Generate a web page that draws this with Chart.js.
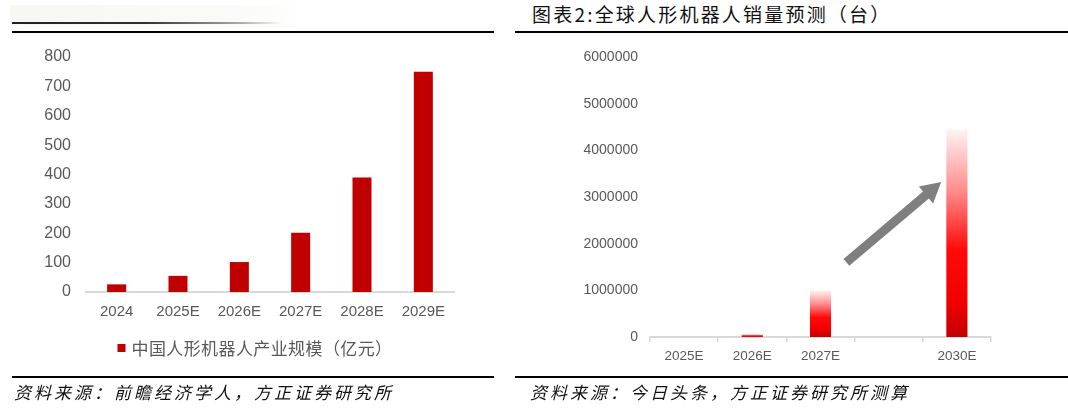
<!DOCTYPE html>
<html>
<head>
<meta charset="utf-8">
<script src="https://cdn.jsdelivr.net/npm/chart.js@4.4.1/dist/chart.umd.min.js"></script>
<style>
  html, body { margin:0; padding:0; background:#fff; }
  body { width:1068px; height:408px; position:relative; overflow:hidden; }
  .abs { position:absolute; }
  .rule { position:absolute; height:2px; background:#000; }
  .src { position:absolute; font-family:"Noto Sans CJK SC"; font-style:italic; font-size:17px; letter-spacing:3px; color:#111; line-height:20px; white-space:nowrap; }
  #title2 { position:absolute; left:532px; top:2px; font-family:"Noto Sans CJK SC"; font-size:19px; letter-spacing:2.2px; color:#111; white-space:nowrap; line-height:24px; }
  #fade { position:absolute; left:10px; top:5px; width:300px; height:20px; background:linear-gradient(to right, #f7f7f4 0%, #fafaf7 70%, rgba(255,255,255,0) 100%); }
  #fadeline { position:absolute; left:12px; top:22px; width:270px; height:2px; background:linear-gradient(to right, #222 0%, #333 50%, rgba(120,120,120,0.6) 85%, rgba(255,255,255,0) 100%); }
</style>
</head>
<body>
<div id="fade"></div>
<div id="fadeline"></div>
<div class="rule" style="left:12px; top:31px; width:482px;"></div>
<div id="title2">图表2:全球人形机器人销量预测（台）</div>
<div class="rule" style="left:515px; top:31px; width:553px;"></div>

<canvas id="c1" class="abs" style="left:0; top:0;" width="534" height="408"></canvas>
<canvas id="c2" class="abs" style="left:534px; top:0;" width="534" height="408"></canvas>

<div class="rule" style="left:12px; top:376px; width:482px;"></div>
<div class="rule" style="left:515px; top:376px; width:553px;"></div>
<div class="src" style="left:14px; top:382px;">资料来源：前瞻经济学人，方正证券研究所</div>
<div class="src" style="left:530px; top:382px;">资料来源：今日头条，方正证券研究所测算</div>

<script>
// ---- Chart 1 data ----
const years1 = ['2024', '2025E', '2026E', '2027E', '2028E', '2029E'];
const industrySize = [26, 55, 102, 202, 390, 750];
const seriesName1 = '中国人形机器人产业规模（亿元）';

// ---- Chart 2 data ----
const years2 = ['2025E', '2026E', '2027E', '', '2030E'];
const globalSales = [0, 60000, 1000000, null, 4450000];

const tickColor = '#595959';

// legend drawn below the x axis, centred under the plot
const legendPlugin = {
  id: 'bottomLegend',
  afterDraw(chart, args, opts) {
    const ds = chart.data.datasets[0];
    const c = chart.ctx;
    const area = chart.chartArea;
    c.save();
    c.font = '17px "Noto Sans CJK SC"';
    c.letterSpacing = '0.4px';
    const w = c.measureText(ds.label).width;
    const box = 8, gap = 6;
    const total = box + gap + w;
    const cx = (area.left + area.right) / 2 - 15;
    const x0 = cx - total / 2;
    const y = area.bottom + opts.offset;
    c.fillStyle = ds.backgroundColor;
    c.fillRect(x0, y - box / 2, box, box);
    c.fillStyle = '#595959';
    c.textBaseline = 'middle';
    c.textAlign = 'left';
    c.fillText(ds.label, x0 + box + gap, y + 1);
    c.restore();
  }
};

new Chart(document.getElementById('c1'), {
  type: 'bar',
  data: {
    labels: years1,
    datasets: [{
      label: seriesName1,
      data: industrySize,
      backgroundColor: '#c00000',
      barPercentage: 0.31,
      categoryPercentage: 1.0
    }]
  },
  plugins: [legendPlugin],
  options: {
    responsive: false,
    animation: false,
    layout: { padding: { top: 57, left: 0, right: 80, bottom: 80 } },
    plugins: {
      tooltip: { enabled: false },
      legend: { display: false },
      bottomLegend: { offset: 56 }
    },
    scales: {
      x: {
        grid: { display: false, drawTicks: false },
        border: { display: true, color: '#d9d9d9', width: 2 },
        ticks: { color: tickColor, font: { family: 'Liberation Sans', size: 15 }, padding: 11, maxRotation: 0 },
        afterFit: s => { s.height = 36; }
      },
      y: {
        min: 0, max: 800,
        grid: { display: false, drawTicks: false },
        border: { display: false },
        ticks: { stepSize: 100, color: tickColor, font: { family: 'Liberation Sans', size: 16 }, padding: 15 },
        afterFit: s => { s.width = 86; }
      }
    }
  }
});

function barGradient(ctx) {
  const chart = ctx.chart;
  const area = chart.chartArea;
  if (!area || ctx.parsed == null || ctx.parsed.y == null) return '#ff0000';
  const y = chart.scales.y;
  const top = y.getPixelForValue(ctx.parsed.y);
  const bottom = y.getPixelForValue(0);
  if (!(bottom > top)) return '#ff0000';
  const g = chart.ctx.createLinearGradient(0, top, 0, bottom);
  g.addColorStop(0, '#fff4f4');
  g.addColorStop(0.3, '#ff8a8a');
  g.addColorStop(0.58, '#ff0a0a');
  g.addColorStop(0.84, '#f00000');
  g.addColorStop(1, '#c00000');
  return g;
}

const arrowPlugin = {
  id: 'trendArrow',
  afterDatasetsDraw(chart, args, opts) {
    const xs = chart.scales.x, ys = chart.scales.y;
    const x0 = xs.getPixelForValue(opts.from[0]), y0 = ys.getPixelForValue(opts.from[1]);
    const x1 = xs.getPixelForValue(opts.to[0]), y1 = ys.getPixelForValue(opts.to[1]);
    const ang = Math.atan2(y1 - y0, x1 - x0);
    const len = Math.hypot(x1 - x0, y1 - y0);
    const shaft = 9, headW = 22, headL = 20;
    const c = chart.ctx;
    c.save();
    c.translate(x0, y0);
    c.rotate(ang);
    c.fillStyle = '#7f7f7f';
    c.beginPath();
    c.moveTo(0, -shaft / 2);
    c.lineTo(len - headL, -shaft / 2);
    c.lineTo(len - headL, -headW / 2);
    c.lineTo(len, 0);
    c.lineTo(len - headL, headW / 2);
    c.lineTo(len - headL, shaft / 2);
    c.lineTo(0, shaft / 2);
    c.closePath();
    c.fill();
    c.restore();
  }
};

new Chart(document.getElementById('c2'), {
  type: 'bar',
  data: {
    labels: years2,
    datasets: [{
      label: '全球人形机器人销量（台）',
      data: globalSales,
      backgroundColor: barGradient,
      barPercentage: 0.31,
      categoryPercentage: 1.0
    }]
  },
  plugins: [arrowPlugin],
  options: {
    responsive: false,
    animation: false,
    layout: { padding: { top: 57, left: 0, right: 77, bottom: 0 } },
    plugins: {
      tooltip: { enabled: false },
      legend: { display: false },
      trendArrow: { from: [2.38, 1600000], to: [3.77, 3320000] }
    },
    scales: {
      x: {
        grid: { display: true, drawOnChartArea: false, drawTicks: true, tickLength: 5, color: '#d9d9d9', lineWidth: 1.5, offset: true },
        border: { display: true, color: '#d9d9d9', width: 2 },
        ticks: { color: tickColor, font: { family: 'Liberation Sans', size: 13.5 }, padding: 6, maxRotation: 0 },
        afterFit: s => { s.height = 71; }
      },
      y: {
        min: 0, max: 6000000,
        grid: { display: false, drawTicks: false },
        border: { display: false },
        ticks: { stepSize: 1000000, color: tickColor, font: { family: 'Liberation Sans', size: 14 }, padding: 12,
                 callback: v => String(v) },
        afterFit: s => { s.width = 116; }
      }
    }
  }
});
</script>
</body>
</html>
